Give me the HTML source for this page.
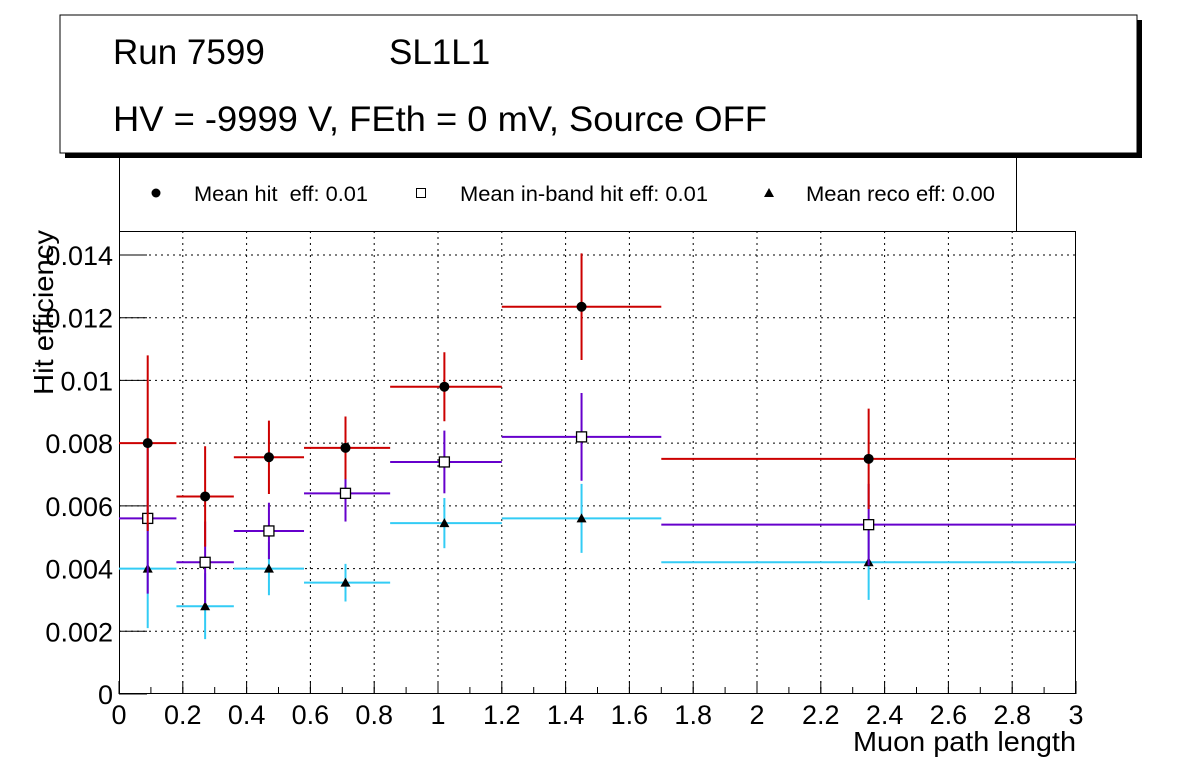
<!DOCTYPE html>
<html><head><meta charset="utf-8"><style>
body{margin:0;background:#fff;}
svg text{font-family:"Liberation Sans",sans-serif;white-space:pre;}
</style></head><body>
<svg id="chart" width="1196" height="772" xmlns="http://www.w3.org/2000/svg">
<rect x="0" y="0" width="1196" height="772" fill="#fff"/>
<rect x="65" y="20" width="1077" height="138" fill="#000"/>
<rect x="60" y="15" width="1077" height="138" fill="#fff" stroke="#000" stroke-width="1"/>
<text x="113" y="64" font-size="35">Run 7599</text>
<text x="389" y="64" font-size="35">SL1L1</text>
<text x="113" y="131" font-size="35" textLength="654" lengthAdjust="spacingAndGlyphs">HV = -9999 V, FEth = 0 mV, Source OFF</text>
<g>
<path d="M119.5 154 V231.5 H1016.5 V154" fill="none" stroke="#000" stroke-width="1"/>
<circle cx="156" cy="193" r="4.5" fill="#000"/>
<text x="194" y="201" font-size="21" textLength="174" lengthAdjust="spacingAndGlyphs">Mean hit&#160; eff: 0.01</text>
<rect x="416.5" y="188.5" width="9" height="9" fill="#fff" stroke="#000"/>
<text x="460" y="201" font-size="21" textLength="248" lengthAdjust="spacingAndGlyphs">Mean in-band hit eff: 0.01</text>
<path d="M769 188 L774 197 L764 197 Z" fill="#000"/>
<text x="806" y="201" font-size="21" textLength="189" lengthAdjust="spacingAndGlyphs">Mean reco eff: 0.00</text>
</g>
<g id="grid"></g>
<g id="axes"></g>
<g id="series"></g>
<text transform="translate(53,395) rotate(-90)" font-size="28" textLength="165" lengthAdjust="spacingAndGlyphs">Hit efficiency</text>
<text x="1076" y="751" font-size="28" text-anchor="end" textLength="223" lengthAdjust="spacingAndGlyphs">Muon path length</text>
</svg>
<script>
const binEdges=[0,0.18,0.36,0.58,0.85,1.2,1.7,3.0];
const xCenters=[0.09,0.27,0.47,0.71,1.02,1.45,2.35];
const hitEff=[0.0080,0.0063,0.00755,0.00785,0.0098,0.01235,0.0075];
const hitErr=[0.0028,0.0016,0.00117,0.001,0.0011,0.0017,0.0016];
const inbandEff=[0.0056,0.0042,0.0052,0.0064,0.0074,0.0082,0.0054];
const inbandErr=[0.0024,0.0013,0.0009,0.0009,0.001,0.0014,0.0013];
const recoEff=[0.0040,0.0028,0.0040,0.00355,0.00545,0.0056,0.0042];
const recoErr=[0.0019,0.00105,0.00085,0.0006,0.0008,0.0011,0.0012];
const xTicks=[0,0.2,0.4,0.6,0.8,1,1.2,1.4,1.6,1.8,2,2.2,2.4,2.6,2.8,3];
const xTickLabels=["0","0.2","0.4","0.6","0.8","1","1.2","1.4","1.6","1.8","2","2.2","2.4","2.6","2.8","3"];
const yTicks=[0,0.002,0.004,0.006,0.008,0.01,0.012,0.014];
const yTickLabels=["0","0.002","0.004","0.006","0.008","0.01","0.012","0.014"];

const L=119,R=1076,T=231,B=694;
const X=v=>L+v/3*(R-L);
const Y=v=>B-v/0.014*439;
const NS="http://www.w3.org/2000/svg";
function mk(tag,attrs,parent){const e=document.createElementNS(NS,tag);for(const k in attrs)e.setAttribute(k,attrs[k]);parent.appendChild(e);return e;}
const grid=document.getElementById('grid'),axes=document.getElementById('axes'),ser=document.getElementById('series');
xTicks.forEach((t,i)=>{
  if(t>0&&t<3){const g=mk('line',{x1:X(t),x2:X(t),y1:T,y2:B,stroke:'#000','stroke-dasharray':'2,4','stroke-width':1},grid);
  
  }
  const tk=mk('line',{x1:X(t),x2:X(t),y1:B,y2:B-13,stroke:'#000'},axes);
  
  
  const tx=mk('text',{x:X(t),y:B+30,'font-size':27,'text-anchor':'middle'},axes);
  tx.textContent=xTickLabels[i];
  
  
});
for(let v=0.1;v<3;v+=0.1){const m=mk('line',{x1:X(v),x2:X(v),y1:B,y2:B-7,stroke:'#000'},axes);
  
  }
yTicks.forEach((t,i)=>{
  if(t>0){const g=mk('line',{x1:L,x2:R,y1:Y(t),y2:Y(t),stroke:'#000','stroke-dasharray':'2,4','stroke-width':1},grid);
  
  }
  const tk=mk('line',{x1:L,x2:L+28,y1:Y(t),y2:Y(t),stroke:'#000'},axes);
  
  
  const tx=mk('text',{x:L-6,y:Y(t)+10,'font-size':27,'text-anchor':'end'},axes);
  tx.textContent=yTickLabels[i];
  
  
});
const fr=mk('rect',{x:L+0.5,y:T+0.5,width:R-L-1,height:B-T-1,fill:'none',stroke:'#000'},axes);



function drawSeries(vals,errs,color,marker,name){
  const g=mk('g',{},ser);
  
  
  vals.forEach((v,i)=>{
    const cx=X(xCenters[i]),cy=Y(v);
    const h=mk('line',{x1:X(binEdges[i]),x2:X(binEdges[i+1]),y1:cy,y2:cy,stroke:color,'stroke-width':2},g);
    
    
    const e=mk('line',{x1:cx,x2:cx,y1:Y(v+errs[i]),y2:Y(v-errs[i]),stroke:color,'stroke-width':2},g);
    
    
  });
  vals.forEach((v,i)=>{
    const cx=X(xCenters[i]),cy=Y(v);let m;
    if(marker==='circle')m=mk('circle',{cx:cx,cy:cy,r:5,fill:'#000'},g);
    else if(marker==='square')m=mk('rect',{x:cx-5,y:cy-5,width:10,height:10,fill:'#fff',stroke:'#000','stroke-width':1.3},g);
    else m=mk('path',{d:`M${cx} ${cy-5} L${cx+5} ${cy+4} L${cx-5} ${cy+4} Z`,fill:'#000'},g);
    
    
  });
}
drawSeries(recoEff,recoErr,'#33ccf5','triangle','reco-eff');
drawSeries(inbandEff,inbandErr,'#6600cc','square','inband-eff');
drawSeries(hitEff,hitErr,'#cc0000','circle','hit-eff');
</script>
</body></html>
